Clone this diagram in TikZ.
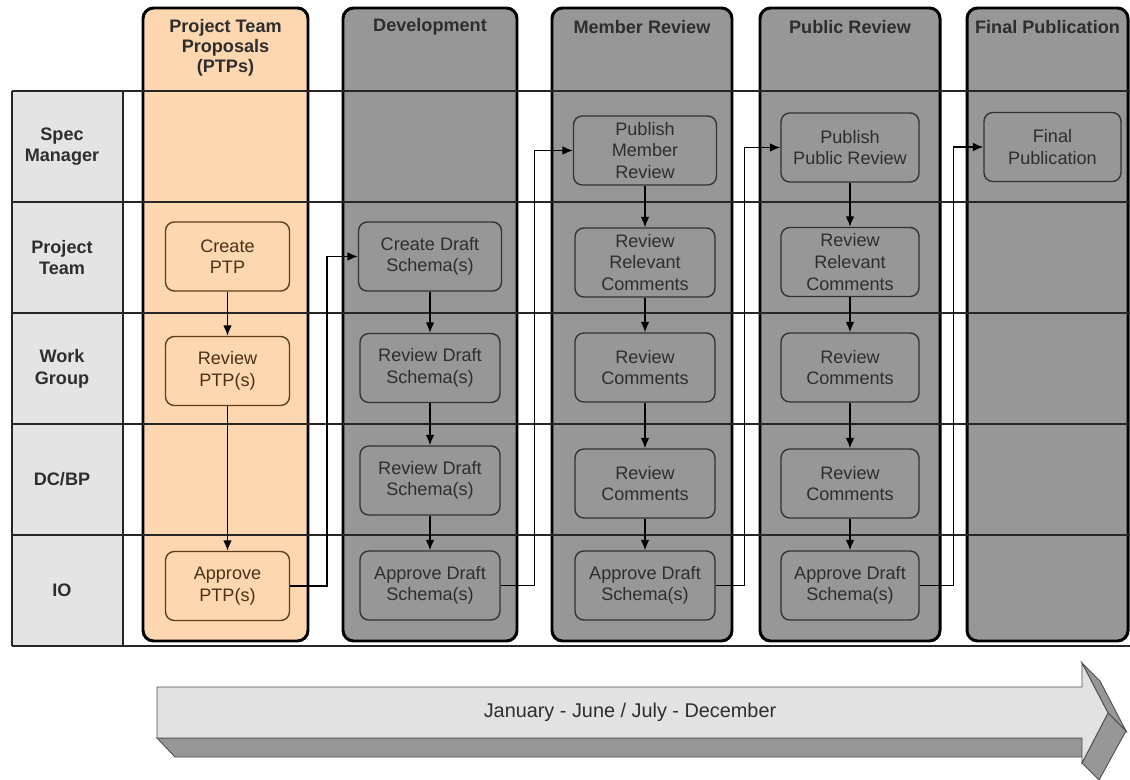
\documentclass[tikz,border=0pt]{standalone}
\usepackage{fontspec}
\setmainfont{Liberation Sans}
\usetikzlibrary{arrows.meta,positioning}

\definecolor{ptpfill}{HTML}{FDD7B0}
\definecolor{ptpline}{HTML}{5E3C1E}
\definecolor{lanefill}{HTML}{979797}
\definecolor{labelfill}{HTML}{E4E4E4}
\definecolor{textgray}{HTML}{2E2E2E}
\definecolor{arrowlight}{HTML}{E2E2E2}

\tikzset{
  lane/.style={draw=black,line width=1.7pt,rounded corners=6pt},
  rowline/.style={draw=black!85,line width=0.8pt},
  heading/.style={font=\fontsize{10.3}{11.4}\selectfont\bfseries,align=center,text=textgray},
  rowlabel/.style={font=\fontsize{10.3}{12.4}\selectfont\bfseries,align=center,text=textgray},
  task/.style={draw=black!80,line width=0.8pt,rounded corners=5pt,fill=lanefill,
    minimum height=1.38cm,inner sep=1pt,align=center,text=textgray,
    font=\fontsize{10.3}{12.3}\selectfont},
  ptptask/.style={task,draw=ptpline,fill=ptpfill,text=ptpline!80!black},
  flow/.style={-{Latex[length=6pt,width=5pt]},line width=0.85pt,draw=black}
}

\begin{document}
\begin{tikzpicture}[x=0.02cm,y=-0.02cm]
  \useasboundingbox (0,0) rectangle (1130,780);

  % row label column
  \fill[labelfill] (12,91) rectangle (123,646);

  % swim lanes
  \draw[lane,fill=ptpfill] (143,8) rectangle (308,641);
  \foreach \xa/\xb in {343/517, 552/732, 760/940, 967/1128} {
    \draw[lane,fill=lanefill] (\xa,8) rectangle (\xb,641);
  }

  % row lines
  \foreach \y in {91,202,313,424,535,646} {
    \draw[rowline] (12,\y) -- (1130,\y);
  }
  \draw[rowline] (12,91) -- (12,646);
  \draw[rowline] (123,91) -- (123,646);

  % lane headings
  \node[heading] (hptp) at (225.5,48) {Project Team\\Proposals\\(PTPs)};
  \node[heading] (hdev) at (430,27) {Development};
  \node[heading] (hmr) at (642,27) {Member Review};
  \node[heading] (hpr) at (850,27) {Public Review};
  \node[heading] (hfinal) at (1047.5,27) {Final Publication};

  % row labels
  \foreach \i/\lbl in {1/{Spec\\Manager}, 2/{Project\\Team}, 3/{Work\\Group}, 4/{DC/BP}, 5/{IO}} {
    \node[rowlabel] (row\i) at (62,91+111*\i-55.5) {\lbl};
  }

  % project team proposals
  \node[ptptask,minimum width=2.48cm] (ptpcreate) at (227.5,256.5) {Create\\PTP};
  \node[ptptask,minimum width=2.48cm] (ptpreview) at (227.5,371) {Review\\PTP(s)};
  \node[ptptask,minimum width=2.48cm] (ptpapprove) at (227.5,586) {Approve\\PTP(s)};

  % development
  \node[task,minimum width=2.86cm] (devcreate) at (430,256.5) {Create Draft\\Schema(s)};
  \node[task,minimum width=2.8cm] (devreview) at (430,368) {Review Draft\\Schema(s)};
  \node[task,minimum width=2.8cm] (devdcbp) at (430,480.5) {Review Draft\\Schema(s)};
  \node[task,minimum width=2.8cm] (devapprove) at (430,585.5) {Approve Draft\\Schema(s)};

  % member review
  \node[task,minimum width=2.86cm] (mrpublish) at (645,150.5) {Publish\\Member\\Review};
  \node[task,minimum width=2.8cm] (mrrelevant) at (645,262.5) {Review\\Relevant\\Comments};
  \node[task,minimum width=2.8cm] (mrreview) at (645,367.5) {Review\\Comments};
  \node[task,minimum width=2.8cm] (mrdcbp) at (645,483.5) {Review\\Comments};
  \node[task,minimum width=2.8cm] (mrapprove) at (645,585.5) {Approve Draft\\Schema(s)};

  % public review
  \node[task,minimum width=2.76cm] (prpublish) at (850,147.5) {Publish\\Public Review};
  \node[task,minimum width=2.76cm] (prrelevant) at (850,262) {Review\\Relevant\\Comments};
  \node[task,minimum width=2.76cm] (prreview) at (850,367.5) {Review\\Comments};
  \node[task,minimum width=2.76cm] (prdcbp) at (850,483.5) {Review\\Comments};
  \node[task,minimum width=2.76cm] (prapprove) at (850,585.5) {Approve Draft\\Schema(s)};

  % final publication
  \node[task,minimum width=2.74cm] (finalpub) at (1052.5,147) {Final\\Publication};

  % flow inside the lanes
  \foreach \a/\b in {ptpcreate/ptpreview, ptpreview/ptpapprove,
                     devcreate/devreview, devreview/devdcbp, devdcbp/devapprove,
                     mrpublish/mrrelevant, mrrelevant/mrreview, mrreview/mrdcbp, mrdcbp/mrapprove,
                     prpublish/prrelevant, prrelevant/prreview, prreview/prdcbp, prdcbp/prapprove} {
    \draw[flow] (\a.south) -- (\b.north);
  }

  % flow between the lanes
  \draw[flow] (ptpapprove.east) -- ++(37,0) |- (devcreate.west);
  \draw[flow] (devapprove.east) -- ++(34,0) |- (mrpublish.west);
  \draw[flow] (mrapprove.east) -- ++(29,0) |- (prpublish.west);
  \draw[flow] (prapprove.east) -- ++(34,0) |- (finalpub.west);

  % time line arrow
  \filldraw[fill=lanefill,draw=black!70,line width=0.5pt]
    (157,738) -- (1082,738) -- (1100,757) -- (175,757) -- cycle;
  \filldraw[fill=lanefill,draw=black!70,line width=0.5pt]
    (1082,663) -- (1100,681) -- (1126,731) -- (1108,713) -- cycle;
  \filldraw[fill=lanefill,draw=black!70,line width=0.5pt]
    (1108,713) -- (1126,731) -- (1099,780) -- (1082,763) -- cycle;
  \filldraw[fill=arrowlight,draw=black!70,line width=0.5pt]
    (157,687) -- (1082,687) -- (1082,663) -- (1108,713) -- (1082,763) -- (1082,738) -- (157,738) -- cycle;
  \node[font=\fontsize{11.3}{13}\selectfont,text=textgray] (timeline) at (630,712) {January - June / July - December};

\end{tikzpicture}
\end{document}
